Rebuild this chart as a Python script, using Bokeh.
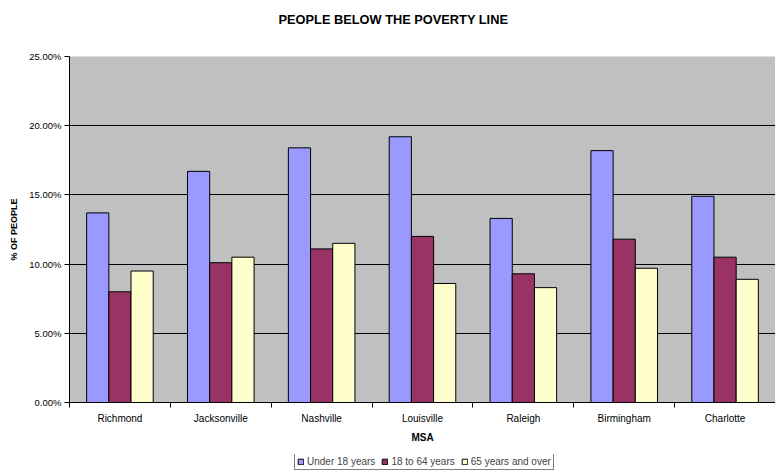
from bokeh.plotting import figure
from bokeh.models import (FixedTicker, NumeralTickFormatter, Legend, LegendItem,
                          ColumnDataSource, Range1d, Title)
from bokeh.layouts import column
from bokeh.embed import file_html
from bokeh.resources import INLINE

cities = ["Richmond", "Jacksonville", "Nashville", "Louisville", "Raleigh", "Birmingham", "Charlotte"]
series_names = ["Under 18 years", "18 to 64 years", "65 years and over"]
under18 = [0.137, 0.167, 0.184, 0.192, 0.133, 0.182, 0.149]
age18_64 = [0.080, 0.101, 0.111, 0.120, 0.093, 0.118, 0.105]
age65 = [0.095, 0.105, 0.115, 0.086, 0.083, 0.097, 0.089]
y_ticks = [0.0, 0.05, 0.10, 0.15, 0.20, 0.25]
colors = ["#9999FF", "#993366", "#FFFFCC"]

FONT = "Liberation Sans"
n = len(cities)
idx = list(range(n))
series = [under18, age18_64, age65]

p = figure(width=775, height=454, output_backend="svg", toolbar_location=None,
           x_range=Range1d(0, n), y_range=Range1d(0, 0.25),
           min_border_left=69, min_border_right=0, min_border_top=56, min_border_bottom=52,
           background_fill_color="#C0C0C0", border_fill_color="white",
           outline_line_color=None)

# spacer between title and plot area
spacer = Title(text=" ", text_font_size="1px", standoff=27)
p.add_layout(spacer, "above")

p.title.text = "PEOPLE BELOW THE POVERTY LINE"
p.title.align = "left"
p.title.text_font = FONT
p.title.text_font_size = "12.8px"
p.title.text_font_style = "bold"
p.title.text_color = "black"
p.title.offset = 209
p.title.standoff = 0

bw = 0.22
sources = []
for k, vals in enumerate(series):
    src = ColumnDataSource(dict(x=[i + 0.5 + (k - 1) * bw for i in idx], top=vals))
    sources.append(src)
    p.vbar(x="x", top="top", width=bw, bottom=0, source=src,
           fill_color=colors[k], line_color="black", line_width=1)

# X axis
xa = p.xaxis[0]
xa.ticker = FixedTicker(ticks=[i + 0.5 for i in idx], minor_ticks=list(range(n + 1)))
xa.major_label_overrides = {i + 0.5: c for i, c in zip(idx, cities)}
xa.major_tick_out = 0
xa.major_tick_in = 0
xa.minor_tick_out = 5
xa.minor_tick_in = 0
xa.minor_tick_line_color = "black"
xa.axis_line_color = "black"
xa.major_label_text_font = FONT
xa.major_label_text_font_size = "10px"
xa.major_label_text_color = "black"
xa.major_label_standoff = 5
xa.axis_label = "MSA"
xa.axis_label_text_font = FONT
xa.axis_label_text_font_size = "10px"
xa.axis_label_text_font_style = "bold"
xa.axis_label_text_color = "black"
xa.axis_label_standoff = 5

# Y axis
ya = p.yaxis[0]
ya.ticker = FixedTicker(ticks=y_ticks)
ya.formatter = NumeralTickFormatter(format="0.00%")
ya.major_tick_out = 5
ya.major_tick_in = 0
ya.minor_tick_line_color = None
ya.axis_line_color = "black"
ya.major_tick_line_color = "black"
ya.major_label_text_font = FONT
ya.major_label_text_font_size = "9.5px"
ya.major_label_text_color = "black"
ya.major_label_standoff = 3
ya.axis_label = "% OF PEOPLE"
ya.axis_label_text_font = FONT
ya.axis_label_text_font_size = "9px"
ya.axis_label_text_font_style = "bold"
ya.axis_label_text_color = "black"
ya.axis_label_standoff = 7

p.xgrid.grid_line_color = None
p.ygrid.ticker = FixedTicker(ticks=y_ticks)
p.ygrid.grid_line_color = "black"
p.ygrid.grid_line_width = 1

# Legend strip below the chart (its proxy bars lie outside its visible range)
lg = figure(width=775, height=16, output_backend="svg", toolbar_location=None,
            x_range=Range1d(0, n), y_range=Range1d(1, 2),
            min_border_left=0, min_border_right=0, min_border_top=0, min_border_bottom=0,
            outline_line_color=None, border_fill_color="white", background_fill_color="white")
lg.axis.visible = False
lg.grid.visible = False
items = []
for k, name in enumerate(series_names):
    r = lg.vbar(x="x", top="top", width=bw, bottom=0, source=sources[k],
                fill_color=colors[k], line_color="black", line_width=1)
    items.append(LegendItem(label=name, renderers=[r]))
legend = Legend(items=items, orientation="horizontal", location=(225, 0),
                label_text_font=FONT, label_text_font_size="10px",
                glyph_width=7, glyph_height=7, label_standoff=3, spacing=6,
                padding=2, margin=0, border_line_color="black",
                background_fill_color="white", label_height=10)
lg.add_layout(legend, "center")

layout = column(p, lg, spacing=0)
open("out.html", "w").write(file_html(layout, INLINE))
